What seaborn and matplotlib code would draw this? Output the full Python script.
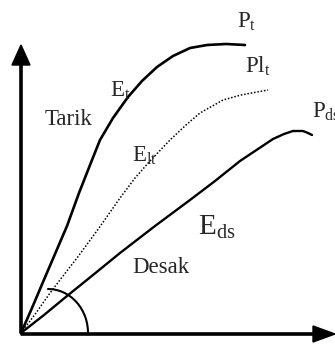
import numpy as np
import matplotlib
matplotlib.use('Agg')
import matplotlib.pyplot as plt
import pandas as pd
import seaborn as sns
from matplotlib.patches import Arc

# curve points (origin at the corner of the axes)
tarik_x = [0, 11, 22, 34, 46, 58, 71, 79, 92, 107, 121, 136, 152, 169, 186, 205, 224]
tarik_y = [0, 25, 51, 79, 107, 140, 173, 193, 215, 236, 252, 266, 277, 285, 288, 289, 288]

pl_x = [0, 15, 29, 42, 56, 78, 99, 114, 129, 149, 165, 179, 202, 220, 236, 247]
pl_y = [0, 20, 40, 57, 75, 105, 135, 155, 172, 193, 208, 220, 233, 238, 241, 243]

desak_x = [0, 23, 46, 72, 99, 134, 169, 194, 219, 237, 252, 263, 272, 282, 287, 291]
desak_y = [0, 18, 37, 58, 80, 107, 133, 152, 172, 184, 194, 199, 202, 202, 200, 198]

sns.set_style("white")
plt.rcParams['font.family'] = ['Liberation Serif', 'DejaVu Serif']
plt.rcParams['mathtext.fontset'] = 'custom'
plt.rcParams['mathtext.rm'] = 'Liberation Serif'
plt.rcParams['mathtext.it'] = 'Liberation Serif:italic'

fig = plt.figure(figsize=(3.35, 3.45), dpi=100)
ax = fig.add_axes([0, 0, 1, 1])

df_t = pd.DataFrame({'x': tarik_x, 'y': tarik_y})
df_p = pd.DataFrame({'x': pl_x, 'y': pl_y})
df_d = pd.DataFrame({'x': desak_x, 'y': desak_y})

sns.lineplot(data=df_t, x='x', y='y', sort=False, color='black', lw=1.9, ax=ax)
sns.lineplot(data=df_p, x='x', y='y', sort=False, color='black', lw=1.1,
             linestyle=(0, (1, 1.2)), ax=ax)
sns.lineplot(data=df_d, x='x', y='y', sort=False, color='black', lw=1.7, ax=ax)

# axes with arrow heads
ax.arrow(0, 0, 0, 288, width=2.2, head_width=18, head_length=20,
         length_includes_head=True, color='black')
ax.arrow(0, -1, 314, 0, width=2.2, head_width=16, head_length=22,
         length_includes_head=True, color='black')

# angle arc
ax.add_patch(Arc((27, 0), 80, 88, theta1=-3, theta2=91, color='black', lw=1.5))

fs = 16.5
ax.text(216, 305, r'$\mathrm{P}_\mathrm{t}$', fontsize=fs, va='baseline')
ax.text(224, 260, r'$\mathrm{Pl}_\mathrm{t}$', fontsize=fs, va='baseline')
ax.text(291, 215, r'$\mathrm{P}_\mathrm{ds}$', fontsize=fs, va='baseline')
ax.text(89, 236, r'$\mathrm{E}_\mathrm{t}$', fontsize=fs, va='baseline')
ax.text(24, 208, 'Tarik', fontsize=fs, va='baseline')
ax.text(111, 171, r'$\mathrm{E}_\mathrm{lt}$', fontsize=fs, va='baseline')
ax.text(177, 98, r'$\mathrm{E}_\mathrm{ds}$', fontsize=21, va='baseline')
ax.text(111, 60, 'Desak', fontsize=fs, va='baseline')

ax.set_xlim(-21, 314)
ax.set_ylim(-12, 333)
ax.axis('off')
ax.set_xlabel('')
ax.set_ylabel('')

plt.savefig('out.png', dpi=100)
